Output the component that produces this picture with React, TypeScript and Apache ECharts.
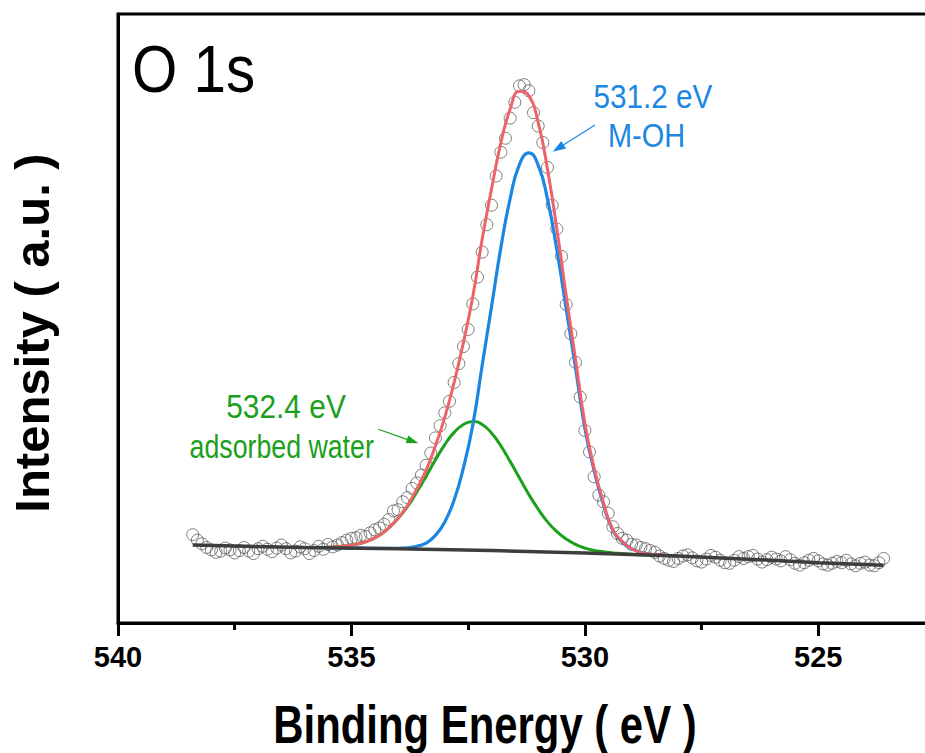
import React, { useEffect, useRef } from "react";
import * as echarts from "echarts";

// Raw O 1s scan: one reading every 0.1 eV, starting at 538.4 eV and stepping down.
const scanStart = 538.4;
const scanStep = 0.1;
const scanIntensity = [
  14.5, 13.6, 13.0, 12.4, 12.0, 11.6, 11.8, 12.3, 12.0, 11.5, // 538.4 – 537.5
  11.9, 12.4, 11.8, 11.4, 12.2, 12.6, 12.1, 11.7, 12.3, 12.8, // 537.4 – 536.5
  12.2, 11.5, 11.8, 12.5, 12.2, 11.4, 11.9, 12.6, 12.1, 12.9, // 536.4 – 535.5
  12.5, 12.8, 13.2, 13.6, 13.9, 14.0, 14.4, 14.2, 14.8, 15.3, // 535.4 – 534.5
  15.6, 16.2, 17.0, 18.4, 18.6, 19.9, 20.6, 22.1, 23.0, 24.3, // 534.4 – 533.5
  25.9, 27.9, 30.4, 32.4, 34.5, 36.4, 39.5, 42.6, 45.4, 48.2, // 533.4 – 532.5
  52.4, 56.8, 60.9, 65.4, 68.6, 73.4, 77.3, 79.6, 82.9, 85.5, // 532.4 – 531.5
  88.2, 88.4, 87.4, 83.8, 81.6, 78.9, 74.8, 68.6, 64.7, 60.2, // 531.4 – 530.5
  52.3, 47.5, 42.8, 37.1, 31.6, 28.1, 24.0, 21.0, 19.9, 18.0, // 530.4 – 529.5
  15.8, 14.7, 13.9, 13.6, 12.9, 12.8, 12.4, 12.2, 11.9, 11.6, // 529.4 – 528.5
  11.0, 10.6, 10.3, 10.1, 10.6, 11.0, 11.2, 10.7, 10.2, 10.0, // 528.4 – 527.5
  10.5, 11.1, 10.8, 10.3, 9.9, 9.8, 10.3, 10.9, 10.6, 10.9, // 527.4 – 526.5
  11.1, 10.5, 10.0, 10.4, 10.8, 10.5, 10.2, 10.9, 10.4, 9.8, // 526.4 – 525.5
  9.5, 9.9, 10.3, 10.6, 10.2, 9.7, 9.5, 9.8, 10.1, 9.9, // 525.4 – 524.5
  10.3, 9.7, 9.4, 9.8, 10.0, 9.5, 9.4, 9.9, 10.6, // 524.4 – 523.6
];

// Fitted curves (background included), sampled every 0.2 eV.
const fitEnergy = [
  536.0, 535.8, 535.6, 535.4, 535.2, 535.0, 534.8, 534.6, 534.4, 534.2,
  534.0, 533.8, 533.6, 533.4, 533.2, 533.0, 532.8, 532.6, 532.4, 532.2,
  532.0, 531.8, 531.6, 531.4, 531.2, 531.0, 530.8, 530.6, 530.4, 530.2,
  530.0, 529.8, 529.6, 529.4, 529.2, 529.0, 528.8, 528.6, 528.4, 528.2,
  528.0,
];
// 532.4 eV component: adsorbed water
const waterFit = [
  12.4, 12.4, 12.4, 12.5, 12.6, 12.8, 13.1, 13.6, 14.4, 15.6,
  17.2, 19.1, 21.5, 24.1, 26.8, 29.3, 31.3, 32.6, 33.1, 32.6,
  31.2, 29.1, 26.5, 23.8, 21.1, 18.7, 16.6, 15.0, 13.8, 12.9,
  12.3, 11.9, 11.7, 11.5, 11.4, 11.3, 11.2, 11.2, 11.1, 11.1,
  11.0,
];
// 531.2 eV component: M-OH
const hydroxylFit = [
  12.4, 12.38, 12.36, 12.34, 12.32, 12.3, 12.28, 12.26, 12.24, 12.24,
  12.27, 12.36, 12.6, 13.1, 14.4, 16.6, 20.2, 25.5, 32.5, 42.3,
  51.9, 61.6, 69.7, 75.3, 77.2, 75.2, 69.6, 61.3, 51.6, 41.9,
  32.0, 25.0, 19.4, 15.2, 13.3, 12.2, 11.6, 11.3, 11.15, 11.07,
  11.0,
];
// cumulative fit envelope
const envelopeFit = [
  12.4, 12.4, 12.4, 12.5, 12.6, 12.8, 13.1, 13.6, 14.4, 15.6,
  17.2, 19.3, 22.0, 25.1, 29.1, 33.8, 39.5, 46.1, 53.6, 63.0,
  71.2, 78.8, 84.4, 87.3, 86.6, 82.2, 74.5, 64.7, 53.8, 43.3,
  32.8, 25.4, 19.7, 15.3, 13.4, 12.2, 11.6, 11.3, 11.2, 11.1,
  11.0,
];

// Background under the whole scan
const baselineEnergy = [538.4, 536.0, 534.0, 532.0, 530.0, 528.0, 526.0, 525.0, 523.6];
const baselineIntensity = [12.8, 12.4, 12.2, 11.9, 11.5, 11.0, 10.3, 9.9, 9.5];

const energyTicks = { min: 520, max: 540, interval: 5 };

const FONT = "'Liberation Sans', Arial, sans-serif";
const RED = "#f0626a";
const BLUE = "#1c86e3";
const GREEN = "#1ba01b";

function pairs(xs: number[], ys: number[]) {
  return ys.map((y, i) => [xs[i], y]);
}

function arrow(x1: number, y1: number, x2: number, y2: number, color: string, head: number, half: number) {
  const dx = x2 - x1;
  const dy = y2 - y1;
  const len = Math.hypot(dx, dy);
  const ux = dx / len;
  const uy = dy / len;
  const bx = x2 - ux * head;
  const by = y2 - uy * head;
  return [
    { type: "line", z: 100, shape: { x1, y1, x2: bx, y2: by }, style: { stroke: color, lineWidth: 1.2 } },
    {
      type: "polygon",
      z: 100,
      shape: { points: [[x2, y2], [bx - uy * half, by + ux * half], [bx + uy * half, by - ux * half]] },
      style: { fill: color },
    },
  ];
}

function label(text: string, x: number, y: number, size: number, color: string, opts: any = {}) {
  return {
    type: "text",
    z: 100,
    x,
    y,
    scaleX: opts.scaleX ?? 1,
    rotation: opts.rotation ?? 0,
    style: {
      text,
      fontSize: size,
      fontFamily: FONT,
      fontWeight: opts.bold ? "bold" : "normal",
      fill: color,
      align: opts.align ?? "center",
      verticalAlign: "middle",
      textAlign: opts.align ?? "center",
      textVerticalAlign: "middle",
    },
  };
}

export default function App() {
  const ref = useRef<HTMLDivElement>(null);

  useEffect(() => {
    if (!ref.current) return;
    const chart = echarts.init(ref.current, null, { renderer: "svg" });
    const scan = scanIntensity.map((v, i) => [+(scanStart - i * scanStep).toFixed(1), v]);

    chart.setOption({
      animation: false,
      backgroundColor: "#ffffff",
      grid: {
        left: 118,
        top: 14,
        right: 8.3,
        bottom: 130,
        outerBoundsMode: "none",
        containLabel: false,
        show: true,
        borderColor: "#000",
        borderWidth: 3,
        backgroundColor: "transparent",
      },
      xAxis: {
        type: "value",
        inverse: true,
        min: energyTicks.min,
        max: energyTicks.max,
        interval: energyTicks.interval,
        axisLine: { show: true, lineStyle: { color: "#000", width: 3 } },
        axisTick: { show: true, inside: false, length: 13, lineStyle: { color: "#000", width: 3 } },
        minorTick: { show: true, splitNumber: 2, length: 7, lineStyle: { color: "#000", width: 3 } },
        axisLabel: {
          margin: 19,
          fontSize: 29,
          fontWeight: "bold",
          fontFamily: FONT,
          color: "#000",
          showMinLabel: false,
        },
        splitLine: { show: false },
        minorSplitLine: { show: false },
      },
      yAxis: {
        type: "value",
        min: 0,
        max: 100,
        axisLine: { show: true, lineStyle: { color: "#000", width: 3 } },
        axisTick: { show: false },
        axisLabel: { show: false },
        splitLine: { show: false },
      },
      series: [
        {
          name: "Raw",
          type: "scatter",
          z: 1,
          data: scan,
          symbol: "circle",
          symbolSize: 12,
          itemStyle: { color: "rgba(0,0,0,0)", borderColor: "#4d4d4d", borderWidth: 0.9 },
        },
        {
          name: "Adsorbed water",
          type: "line",
          z: 3,
          data: pairs(fitEnergy, waterFit),
          smooth: 0.5,
          showSymbol: false,
          lineStyle: { color: GREEN, width: 3 },
        },
        {
          name: "M-OH",
          type: "line",
          z: 4,
          data: pairs(fitEnergy, hydroxylFit),
          smooth: 0.5,
          showSymbol: false,
          lineStyle: { color: BLUE, width: 3.2 },
        },
        {
          name: "Envelope",
          type: "line",
          z: 5,
          data: pairs(fitEnergy, envelopeFit),
          smooth: 0.5,
          showSymbol: false,
          lineStyle: { color: RED, width: 3 },
        },
        {
          name: "Background",
          type: "line",
          z: 6,
          data: pairs(baselineEnergy, baselineIntensity),
          showSymbol: false,
          lineStyle: { color: "#3d3d3d", width: 3.5 },
        },
      ],
      graphic: [
        label("O 1s", 132, 68.5, 67, "#000", { align: "left", scaleX: 0.87 }),
        label("531.2 eV", 653, 97, 33, BLUE, { scaleX: 0.9 }),
        label("M-OH", 646.5, 135.5, 34, BLUE, { scaleX: 0.85 }),
        ...arrow(595, 125, 552.7, 151.7, BLUE, 13, 4.5),
        label("532.4 eV", 286, 407, 32.5, GREEN, { scaleX: 0.92 }),
        label("adsorbed water", 281.7, 446, 33, GREEN, { scaleX: 0.81 }),
        ...arrow(378.3, 429.3, 418.3, 443.3, GREEN, 12, 4),
        label("Binding Energy ( eV )", 485, 725, 53, "#000", { bold: true, scaleX: 0.79 }),
        label("Intensity ( a.u. )", 32, 333, 49, "#000", { bold: true, rotation: Math.PI / 2 }),
      ],
    });

    return () => chart.dispose();
  }, []);

  return (
    <div style={{ position: "fixed", left: 0, top: 0, width: 925, height: 753, overflow: "hidden", background: "#fff" }}>
      <div ref={ref} style={{ width: 1060, height: 753 }} />
    </div>
  );
}
